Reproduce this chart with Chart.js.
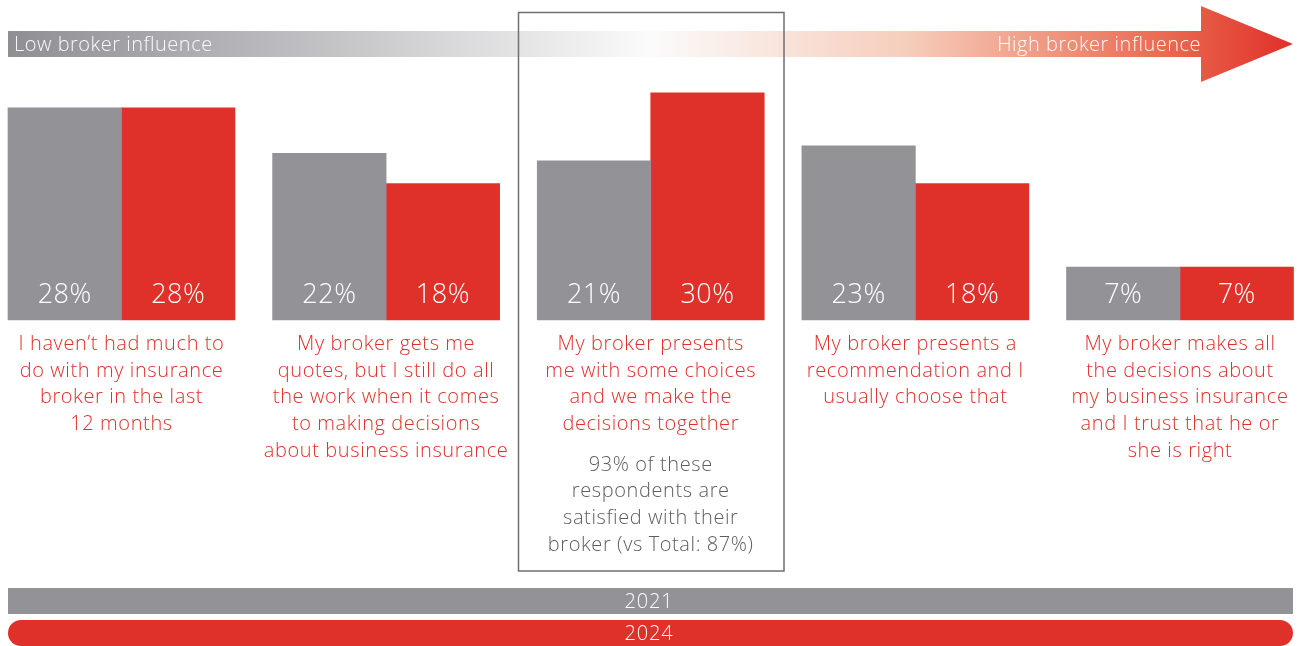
<!DOCTYPE html>
<html>
<head>
<meta charset="utf-8">
<script src="https://cdn.jsdelivr.net/npm/chart.js@4/dist/chart.umd.min.js"></script>
<style>
  html, body { margin: 0; padding: 0; background: #fff; }
  #wrap { position: relative; width: 1298px; height: 646px; }
</style>
</head>
<body>
<div id="wrap"><canvas id="grafico"></canvas></div>
<script>
const categorias = [
    ['I haven\u2019t had much to', 'do with my insurance', 'broker in the last', '12 months'],
    ['My broker gets me', 'quotes, but I still do all', 'the work when it comes', 'to making decisions', 'about business insurance'],
    ['My broker presents', 'me with some choices', 'and we make the', 'decisions together'],
    ['My broker presents a', 'recommendation and I', 'usually choose that'],
    ['My broker makes all', 'the decisions about', 'my business insurance', 'and I trust that he or', 'she is right']
];
const anos = ['2021', '2024'];
const valores2021 = [28, 22, 21, 23, 7];
const valores2024 = [28, 18, 30, 18, 7];
const notaDestaque = ['93% of these', 'respondents are', 'satisfied with their', 'broker (vs Total: 87%)'];
const indiceDestaque = 2;
const escalaTexto = ['Low broker influence', 'High broker influence'];

const CINZA = '#939297';
const VERMELHO = '#e0302a';
const FONTE = '"Open Sans", Roboto, sans-serif';

// seta de influência no topo
const setaPlugin = {
    id: 'seta',
    beforeDraw(chart) {
        const c = chart.ctx;
        c.save();
        const g = c.createLinearGradient(8, 0, 1293, 0);
        g.addColorStop(0, '#8f8e93');
        g.addColorStop(0.25, '#c3c2c5');
        g.addColorStop(0.5, '#fbfbfb');
        g.addColorStop(0.7, '#f6cdbb');
        g.addColorStop(0.9, '#ea6a50');
        g.addColorStop(1, '#e0302a');
        c.fillStyle = g;
        c.beginPath();
        c.moveTo(8, 31);
        c.lineTo(1201, 31);
        c.lineTo(1201, 6);
        c.lineTo(1293, 44);
        c.lineTo(1201, 82);
        c.lineTo(1201, 57);
        c.lineTo(8, 57);
        c.closePath();
        c.fill();

        c.fillStyle = 'rgba(255,255,255,0.95)';
        c.font = '300 20px ' + FONTE;
        c.letterSpacing = '0.5px';
        c.textBaseline = 'middle';
        c.textAlign = 'left';
        c.fillText(escalaTexto[0], 14, 45.5);
        c.textAlign = 'right';
        c.fillText(escalaTexto[1], 1201, 45.5);
        c.restore();
    }
};

// rótulos, caixa de destaque e legenda
const textosPlugin = {
    id: 'textos',
    afterDatasetsDraw(chart) {
        const c = chart.ctx;
        const x = chart.scales.x;
        c.save();
        c.textAlign = 'center';
        c.textBaseline = 'middle';

        // valores dentro das barras
        c.fillStyle = '#fff';
        c.font = '300 27px ' + FONTE;
        c.letterSpacing = '0.5px';
        chart.data.datasets.forEach((ds, i) => {
            chart.getDatasetMeta(i).data.forEach((bar, j) => {
                c.fillText(ds.data[j] + '%', bar.x, 295);
            });
        });

        // categorias
        c.fillStyle = VERMELHO;
        c.font = '300 20px ' + FONTE;
        c.letterSpacing = '0.6px';
        categorias.forEach((linhas, i) => {
            const cx = x.getPixelForValue(i);
            linhas.forEach((t, k) => c.fillText(t, cx, 344 + k * 26.8));
        });

        // nota do grupo em destaque
        const cx = x.getPixelForValue(indiceDestaque);
        c.fillStyle = '#5e5e62';
        notaDestaque.forEach((t, k) => c.fillText(t, cx, 465 + k * 26.7));

        c.strokeStyle = '#6f6f74';
        c.lineWidth = 1.5;
        c.strokeRect(518.5, 12.5, 265.5, 558.5);

        // legenda em faixas
        c.fillStyle = CINZA;
        c.fillRect(8, 588, 1285, 26);
        c.fillStyle = VERMELHO;
        c.beginPath();
        c.roundRect(8, 620, 1285, 26, 13);
        c.fill();
        c.fillStyle = '#fff';
        c.font = '300 20px ' + FONTE;
        c.letterSpacing = '0.8px';
        c.fillText(anos[0], 649, 602.5);
        c.fillText(anos[1], 649, 634.5);
        c.restore();
    }
};

new Chart(document.getElementById('grafico'), {
    type: 'bar',
    data: {
        labels: categorias.map(l => l.join(' ')),
        datasets: [
            {
                label: anos[0],
                data: valores2021,
                backgroundColor: CINZA,
                barThickness: 113.5,
                clip: false
            },
            {
                label: anos[1],
                data: valores2024,
                backgroundColor: VERMELHO,
                barThickness: 113.5,
                clip: false
            }
        ]
    },
    options: {
        responsive: true,
        maintainAspectRatio: false,
        animation: false,
        layout: {
            padding: { left: 121.5, right: 118, top: 17, bottom: 326 }
        },
        plugins: {
            legend: { display: false },
            tooltip: { enabled: false }
        },
        scales: {
            x: {
                display: false,
                offset: false
            },
            y: {
                display: false,
                min: 0,
                max: 40
            }
        }
    },
    plugins: [setaPlugin, textosPlugin]
});
</script>
</body>
</html>
